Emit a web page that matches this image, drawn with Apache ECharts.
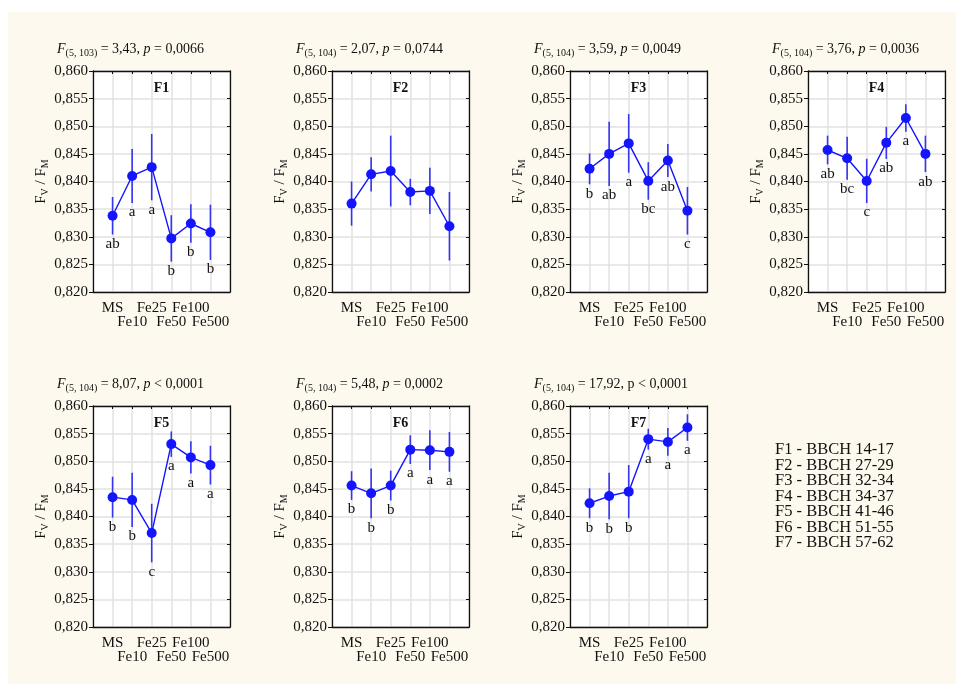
<!DOCTYPE html>
<html>
<head>
<meta charset="utf-8">
<title>Fv/Fm</title>
<script src="https://cdn.jsdelivr.net/npm/echarts@6/dist/echarts.min.js"></script>
<style>
  html, body { margin: 0; padding: 0; background: #ffffff; }
  #chart {
    width: 956px; height: 684px;
    background: linear-gradient(#fdf9ee, #fdf9ee) 8px 12px / 948px 672px no-repeat, #ffffff;
  }
</style>
</head>
<body>
<div id="chart"></div>
<script>
// Treatments on the x axis
const categories = ['MS', 'Fe10', 'Fe25', 'Fe50', 'Fe100', 'Fe500'];

// Mean Fv/Fm per treatment, half-length of the error bar, and homogeneous-group letters
const meanF1 = [0.8338, 0.8410, 0.8426, 0.8297, 0.8324, 0.8308];
const errF1  = [0.0034, 0.0049, 0.0060, 0.0042, 0.0035, 0.0050];
const grpF1  = ['ab', 'a', 'a', 'b', 'b', 'b'];

const meanF2 = [0.8360, 0.8413, 0.8419, 0.8381, 0.8383, 0.8319];
const errF2  = [0.0040, 0.0031, 0.0064, 0.0024, 0.0042, 0.0062];
const grpF2  = ['', '', '', '', '', ''];

const meanF3 = [0.8423, 0.8450, 0.8469, 0.8401, 0.8438, 0.8347];
const errF3  = [0.0028, 0.0058, 0.0053, 0.0034, 0.0030, 0.0043];
const grpF3  = ['b', 'ab', 'a', 'bc', 'ab', 'c'];

const meanF4 = [0.8457, 0.8442, 0.8401, 0.8470, 0.8515, 0.8450];
const errF4  = [0.0026, 0.0039, 0.0040, 0.0029, 0.0025, 0.0033];
const grpF4  = ['ab', 'bc', 'c', 'ab', 'a', 'ab'];

const meanF5 = [0.8435, 0.8430, 0.8370, 0.8531, 0.8507, 0.8493];
const errF5  = [0.0037, 0.0049, 0.0053, 0.0023, 0.0029, 0.0035];
const grpF5  = ['b', 'b', 'c', 'a', 'a', 'a'];

const meanF6 = [0.8456, 0.8442, 0.8456, 0.8521, 0.8520, 0.8517];
const errF6  = [0.0026, 0.0045, 0.0027, 0.0026, 0.0036, 0.0036];
const grpF6  = ['b', 'b', 'b', 'a', 'a', 'a'];

const meanF7 = [0.8424, 0.8437, 0.8445, 0.8540, 0.8535, 0.8561];
const errF7  = [0.0027, 0.0042, 0.0048, 0.0019, 0.0025, 0.0024];
const grpF7  = ['b', 'b', 'b', 'a', 'a', 'a'];

// Panel names and ANOVA results shown above each panel
const panelNames = ['F1', 'F2', 'F3', 'F4', 'F5', 'F6', 'F7'];
const dfLabels = ['(5, 103)', '(5, 104)', '(5, 104)', '(5, 104)', '(5, 104)', '(5, 104)', '(5, 104)'];
const fStats = ['3,43', '2,07', '3,59', '3,76', '8,07', '5,48', '17,92'];
const pStats = ['= 0,0066', '= 0,0744', '= 0,0049', '= 0,0036', '< 0,0001', '= 0,0002', '< 0,0001'];

// Y axis range and tick step
const yMin = 0.820, yMax = 0.860, yStep = 0.005;

// Growth stage key
const stageKey = [
  'F1 - BBCH 14-17', 'F2 - BBCH 27-29', 'F3 - BBCH 32-34', 'F4 - BBCH 34-37',
  'F5 - BBCH 41-46', 'F6 - BBCH 51-55', 'F7 - BBCH 57-62'
];

const means = [meanF1, meanF2, meanF3, meanF4, meanF5, meanF6, meanF7];
const errs = [errF1, errF2, errF3, errF4, errF5, errF6, errF7];
const groups = [grpF1, grpF2, grpF3, grpF4, grpF5, grpF6, grpF7];

const FONT = '"Liberation Serif", "Times New Roman", serif';
const INK = '#111111';
const LINE_BLUE = '#1414ff';
const BAR_BLUE = '#3535f2';
const GRID_GRAY = '#e2e2e2';

// Plot-box placement: four columns, two rows
const colLeft = [93, 332, 570, 808];
const rowTop = [71, 406];
const boxW = 137, boxH = 221;

const grids = [], xAxes = [], yAxes = [], series = [], graphics = [];

panelNames.forEach((name, i) => {
  const left = colLeft[i % 4];
  const top = rowTop[Math.floor(i / 4)];
  grids.push({ left, top, width: boxW, height: boxH, show: true, backgroundColor: '#ffffff', borderWidth: 0 });

  // bottom axis: treatment labels, staggered over two lines
  xAxes.push({
    gridIndex: i, type: 'value', min: 0, max: categories.length + 1, interval: 1, position: 'bottom',
    axisLine: { show: true, onZero: false, lineStyle: { color: INK, width: 1.3 } },
    axisTick: { show: false },
    splitLine: { show: true, lineStyle: { color: GRID_GRAY, width: 1.5 } },
    axisLabel: {
      show: true, margin: 9, color: INK, fontFamily: FONT, fontSize: 15, lineHeight: 14,
      formatter: v => {
        const k = Math.round(v);
        if (k < 1 || k > categories.length) return '';
        return k % 2 === 1 ? categories[k - 1] : '\n' + categories[k - 1];
      }
    }
  });
  // top edge of the box with inward ticks
  xAxes.push({
    gridIndex: i, type: 'value', min: 0, max: categories.length + 1, interval: 1, position: 'top',
    axisLine: { show: true, onZero: false, lineStyle: { color: INK, width: 1.3 } },
    axisTick: { show: true, inside: true, length: 3, lineStyle: { color: INK } },
    axisLabel: { show: false }, splitLine: { show: false }
  });
  // left value axis
  yAxes.push({
    gridIndex: i, type: 'value', min: yMin, max: yMax, interval: yStep, position: 'left',
    name: '{a|F}{b|V}{a| / F}{b|M}', nameLocation: 'middle', nameRotate: 90, nameGap: 41,
    nameTextStyle: {
      color: INK,
      rich: {
        a: { fontFamily: FONT, fontSize: 15, lineHeight: 18, color: INK },
        b: { fontFamily: FONT, fontSize: 10, lineHeight: 10, verticalAlign: 'bottom', color: INK }
      }
    },
    axisLine: { show: true, onZero: false, lineStyle: { color: INK, width: 1.3 } },
    axisTick: { show: true, inside: false, length: 4, lineStyle: { color: INK } },
    splitLine: { show: true, lineStyle: { color: GRID_GRAY, width: 1.5 } },
    axisLabel: {
      margin: 5, color: INK, fontFamily: FONT, fontSize: 15,
      formatter: v => v.toFixed(3).replace('.', ',')
    }
  });
  // right edge of the box with inward ticks
  yAxes.push({
    gridIndex: i, type: 'value', min: yMin, max: yMax, interval: yStep, position: 'right',
    axisLine: { show: true, onZero: false, lineStyle: { color: INK, width: 1.3 } },
    axisTick: { show: true, inside: true, length: 3, lineStyle: { color: INK } },
    axisLabel: { show: false }, splitLine: { show: false }
  });

  const xa = i * 2, ya = i * 2;
  const m = means[i], e = errs[i];

  // error bars (mean ± e)
  series.push({
    type: 'custom', xAxisIndex: xa, yAxisIndex: ya, z: 2,
    data: m.map((v, k) => [k + 1, v - e[k], v + e[k]]),
    renderItem: (params, api) => {
      const p1 = api.coord([api.value(0), api.value(2)]);
      const p2 = api.coord([api.value(0), api.value(1)]);
      return { type: 'line', shape: { x1: p1[0], y1: p1[1], x2: p2[0], y2: p2[1] },
               style: { stroke: BAR_BLUE, lineWidth: 1.6 } };
    }
  });
  // means joined by a line
  series.push({
    type: 'line', xAxisIndex: xa, yAxisIndex: ya, z: 3,
    data: m.map((v, k) => [k + 1, v]),
    symbol: 'circle', symbolSize: 10,
    lineStyle: { color: LINE_BLUE, width: 1.4 },
    itemStyle: { color: LINE_BLUE },
    silent: true, animation: false
  });
  // group letters just under each bar
  series.push({
    type: 'custom', xAxisIndex: xa, yAxisIndex: ya, z: 4,
    data: m.map((v, k) => [k + 1, v - e[k]]),
    renderItem: (params, api) => {
      const p = api.coord([api.value(0), api.value(1)]);
      return { type: 'text', x: p[0], y: p[1] + 2,
               style: { text: groups[i][params.dataIndex], fill: INK, font: '15px ' + FONT,
                        align: 'center', verticalAlign: 'top' } };
    }
  });

  // ANOVA heading
  const pKey = i === 6 ? 'n' : 'i';
  graphics.push({
    type: 'text', left: left - 36, top: top - 29,
    style: {
      text: '{i|F}{s|' + dfLabels[i] + '}{n| = ' + fStats[i] + ', }{' + pKey + '|p}{n| ' + pStats[i] + '}',
      rich: {
        i: { fontFamily: FONT, fontSize: 14, fontStyle: 'italic', lineHeight: 18, fill: INK },
        n: { fontFamily: FONT, fontSize: 14, lineHeight: 18, fill: INK },
        s: { fontFamily: FONT, fontSize: 10, lineHeight: 10, verticalAlign: 'bottom', fill: INK }
      }
    }
  });
  // panel name inside the box
  graphics.push({
    type: 'text', x: left + boxW / 2, y: top + 17,
    style: { text: name, font: 'bold 14px ' + FONT, fill: INK, align: 'center', verticalAlign: 'middle' }
  });
});

// stage key in the empty cell
graphics.push({
  type: 'text', x: 775, y: 442,
  style: { text: stageKey.join('\n'), font: '16.5px ' + FONT, lineHeight: 15.5, fill: INK,
           align: 'left', verticalAlign: 'top' }
});

const chart = echarts.init(document.getElementById('chart'), null, { renderer: 'canvas' });
chart.setOption({
  backgroundColor: 'transparent',
  animation: false,
  textStyle: { fontFamily: FONT },
  grid: grids, xAxis: xAxes, yAxis: yAxes, series,
  graphic: graphics
});
</script>
</body>
</html>
